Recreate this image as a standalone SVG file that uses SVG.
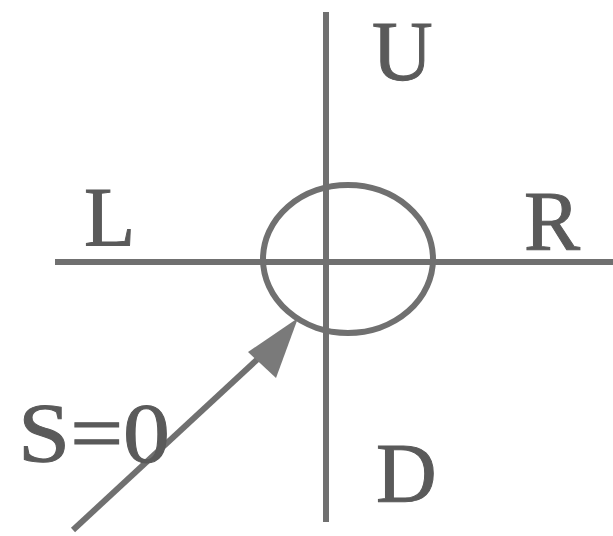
<svg xmlns="http://www.w3.org/2000/svg" width="613" height="536" viewBox="0 0 613 536">
<style>
.ln{stroke:#707070;stroke-width:6;fill:none;stroke-linecap:butt}
.t{font-family:"Liberation Serif","Times New Roman",serif;font-size:84px;fill:#5a5a5a;stroke:#5a5a5a;stroke-width:1}
</style>
<rect width="613" height="536" fill="#ffffff"/>
<g id="connectors">
<line class="ln" x1="326" y1="12" x2="326" y2="522"/>
<line class="ln" x1="55" y1="262" x2="613" y2="262"/>
<line class="ln" x1="73" y1="530" x2="262" y2="355"/>
<path d="M298,318 L248,352 L276,378 z" fill="#7a7a7a"/>
</g>
<g id="node">
<ellipse cx="348" cy="259" rx="85" ry="74" class="ln" stroke-width="5"/>
</g>
<g id="labels">
<text class="t" x="372" y="80">U</text>
<text class="t" x="84" y="246">L</text>
<text class="t" x="524" y="250">R</text>
<text class="t" x="376" y="502">D</text>
<text class="t" x="18" y="462" textLength="152" lengthAdjust="spacingAndGlyphs">S=0</text>
</g>
</svg>
